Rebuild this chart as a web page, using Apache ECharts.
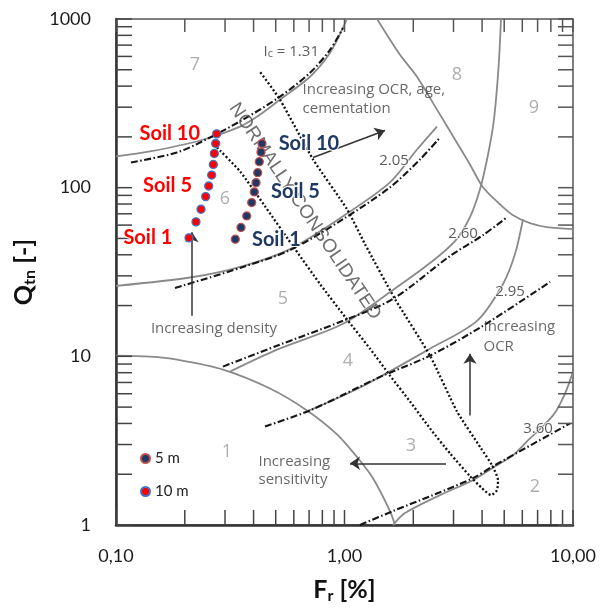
<!DOCTYPE html>
<html><head><meta charset="utf-8">
<script src="https://cdn.jsdelivr.net/npm/echarts@6/dist/echarts.min.js"></script>
<style>html,body{margin:0;padding:0;background:#fff}#c{width:600px;height:609px}</style>
</head><body><div id="c"></div>
<script>
// ---------- axis tick values ----------
const xTickValues = [0.1,0.2,0.3,0.4,0.5,0.6,0.7,0.8,0.9,1,2,3,4,5,6,7,8,9,10];
const yTickValues = [1,2,3,4,5,6,7,8,9,10,20,30,40,50,60,70,80,90,100,200,300,400,500,600,700,800,900,1000];

// ---------- soil data ----------
const soilNames = ['Soil 1','Soil 2','Soil 3','Soil 4','Soil 5','Soil 6','Soil 7','Soil 8','Soil 9','Soil 10'];
const labelledSoils = ['Soil 1','Soil 5','Soil 10'];
const fr5m  = [0.3327,0.3524,0.3733,0.3925,0.4030,0.4100,0.4170,0.4238,0.4312,0.4355];
const qtn5m = [49.5,58.1,68.0,81.6,94.3,107.1,122.7,142.5,162.4,182.8];
const fr10m  = [0.2087,0.2239,0.2355,0.2469,0.2545,0.2623,0.2666,0.2693,0.2731,0.2759];
const qtn10m = [50.4,62.7,74.5,88.5,102.3,118.8,137.3,159.5,182.8,208.5];

// ---------- zone boundaries [Fr, Qtn] ----------
const zone7to6 = [[0.1,153.1],[0.1409,163.9],[0.2332,190.4],[0.3489,230.3],[0.4268,271.1],[0.5221,332.4],[0.7063,454.5],[0.8639,630],[1.0254,1000]];
const zone6to5 = [[0.1,26.15],[0.2173,29.54],[0.3596,34.31],[0.5774,43.24],[0.9849,67.73],[1.5814,107.5],[2.0762,168.4],[2.5398,230.3]];
const zone5to4 = [[0.3155,8.119],[0.5066,10.95],[0.9849,15.59],[1.6302,24.76],[2.367,35.74],[3.045,48.21],[3.541,66.80],[3.917,97.77],[4.205,147.0],[4.466,230.3],[4.603,332.4],[4.745,572.6],[4.840,1000]];
const zone4to3 = [[0.6853,4.712],[1.169,6.531],[2.367,11.10],[3.801,16.24],[4.940,26.87],[5.574,40.39],[6.042,65.01]];
const zone8 = [[1.388,1000],[1.750,613],[2.0762,454.5],[2.5398,290.2],[3.045,193.0],[3.541,137.3],[4.037,100.5],[4.791,79.72],[5.463,68.65],[6.484,61.56],[7.694,58.31],[10,56.75]];
const zone1 = [[0.1,10.09],[0.1409,9.954],[0.1849,9.557],[0.2939,8.342],[0.4721,6.444],[0.6853,4.777],[0.9273,3.446],[1.146,2.487],[1.332,1.895],[1.5814,1.210],[1.663,1]];
const zone2 = [[1.6302,1],[1.840,1.177],[2.618,1.504],[3.650,1.844],[4.649,2.262],[5.463,2.591],[6.290,3.133],[8.175,4.463],[9.226,6.020],[10,8.119]];

// ---------- Ic contours ----------
const ic131 = [[0.1163,141.1],[0.1849,161.7],[0.2579,198.3],[0.3596,253.3],[0.5221,346.2],[0.7063,479.8],[0.8639,656.2],[0.9849,884.9]];
const ic205 = [[0.1812,25.44],[0.3596,33.85],[0.5774,42.65],[0.9849,65.01],[1.5814,100.5],[2.140,147.0],[2.618,198.3]];
const ic260 = [[0.2939,8.690],[0.5066,11.56],[0.9849,16.24],[1.6302,21.90],[2.894,39.31],[4.037,52.29],[5.143,66.80]];
const ic295 = [[0.4488,3.843],[0.7063,4.777],[1.169,6.620],[1.474,7.688],[2.367,10.09],[4.037,15.18],[7.932,27.61]];
const ic360 = [[1.169,1],[1.6302,1.210],[2.4394,1.504],[3.650,1.895],[4.466,2.230],[9.703,4.003]];

// ---------- normally consolidated loop ----------
const ncLoop = [[0.2767,173.1],[0.3489,124.9],[0.4488,77.58],[0.6074,43.24],[0.7811,26.87],[1.005,17.15],[1.293,11.10],[1.5814,7.688],[1.935,5.399],[2.367,3.739],[2.894,2.662],[3.541,1.947],[3.997,1.654],[4.377,1.504],[4.649,1.609],[4.697,1.844],[4.421,2.262],[3.957,2.849],[3.107,4.712],[2.367,10.09],[1.663,21.90],[1.229,46.28],[1.0254,74.5],[0.7285,147.0],[0.5221,332.4],[0.4268,486.4]];

// ---------- arrows ----------
const arrowOCRage = [[0.7285,151.1],[1.504,218.1]];
const arrowDensity = [[0.2150,17.39],[0.2150,54.47]];
const arrowSensitivity = [[2.781,2.323],[1.057,2.323]];
const arrowOCR = [[3.541,4.463],[3.541,10.37]];

// ---------- texts ----------
const zoneNames = ['1','2','3','4','5','6','7','8','9'];
const zoneFr = [0.3060,6.818,1.954,1.036,0.5382,0.2999,0.2216,3.107,6.749];
const zoneQ  = [2.698,1.676,2.928,9.428,21.90,85.33,535.1,467.0,298.2];
const icNames = ['2.05','2.60','2.95','3.60'];
const icFr = [1.647,3.301,5.300,7.027];
const icQ  = [145.0,53.02,24.09,3.739];
const ic131Name = ['I{s|c} = 1.31'];
const ic131Fr = [0.4397];
const ic131Q = [638.6];
const noteNames = ['Increasing OCR, age,','cementation','Increasing','sensitivity','Increasing','OCR'];
const noteFr = [0.652,0.652,0.4182,0.4182,4.037,4.037];
const noteQ  = [380.8,294.1,2.388,1.844,14.97,11.41];
const densityNote = ['Increasing density'];
const densityFr = [0.2685];
const densityQ = [14.57];
const ncName = ['NORMALLY CONSOLIDATED'];
const ncFr = [0.6717];
const ncQ = [72.5];

const LATO = 'Lato, "Liberation Sans", sans-serif';
const OPEN = '"Open Sans", "Noto Sans", sans-serif';

function curve(data, kind) {
  const styles = {
    solid: {color:'#8a8a8a', width:1.8, type:'solid'},
    dashdot: {color:'#161616', width:2.1, type:[7,2.5,1.5,2.5]},
    dotted: {color:'#111', width:2.3, type:[2,2.2]}
  };
  return {type:'line', data:data, symbol:'none', showSymbol:false, smooth:0.3, silent:true, lineStyle:styles[kind], z:2};
}
function arrow(data) {
  return {type:'lines', coordinateSystem:'cartesian2d', silent:true, z:3,
    symbol:['none','arrow'], symbolSize:[0,10],
    lineStyle:{color:'#333', width:1.5, opacity:1},
    data:[{coords:data}]};
}
function textSeries(names, frs, qs, labelOpt) {
  return {type:'scatter', symbol:'circle', symbolSize:1, itemStyle:{color:'transparent'}, silent:true, z:6,
    data: names.map((n,i)=>({name:n, value:[frs[i], qs[i]]})),
    label: Object.assign({show:true, formatter:p=>p.name}, labelOpt)};
}
function tickSeries(values, isX) {
  return {type:'custom', silent:true, clip:false, z:4,
    data: values.map(v => isX ? [v, 1] : [0.1, v]),
    renderItem: function(params, api) {
      const L = 15;
      if (isX) {
        const v = api.value(0);
        const b = api.coord([v, 1]), t = api.coord([v, 1000]);
        return {type:'group', children:[
          {type:'line', shape:{x1:b[0],y1:b[1],x2:b[0],y2:b[1]-L}, style:{stroke:'#444', lineWidth:1.5}},
          {type:'line', shape:{x1:t[0],y1:t[1],x2:t[0],y2:t[1]+L-2}, style:{stroke:'#555', lineWidth:1.5}}]};
      } else {
        const v = api.value(1);
        const l = api.coord([0.1, v]), r = api.coord([10, v]);
        return {type:'group', children:[
          {type:'line', shape:{x1:l[0],y1:l[1],x2:l[0]+L+1,y2:l[1]}, style:{stroke:'#444', lineWidth:1.5}},
          {type:'line', shape:{x1:r[0],y1:r[1],x2:r[0]-L,y2:r[1]}, style:{stroke:'#555', lineWidth:1.5}}]};
      }
    }};
}
function soilSeries(name, frs, qs, fill, border, labelColor, side) {
  return {type:'scatter', name:name, z:8, symbol:'circle', symbolSize:8,
    itemStyle:{color:fill, borderColor:border, borderWidth:1.3, opacity:1},
    label:{show:false, position:side, distance:12, color:labelColor, fontFamily:LATO, fontWeight:'bold', fontSize:20,
      textBorderColor:'#fff', textBorderWidth:2},
    data: soilNames.map((n,i)=>({name:n, value:[frs[i], qs[i]],
      label:{show: labelledSoils.indexOf(n) >= 0, formatter: n}}))};
}

const chart = echarts.init(document.getElementById('c'), null, {renderer:'canvas'});
chart.setOption({
  animation:false,
  backgroundColor:'#fff',
  grid:{left:116, right:27, top:19, bottom:82, show:true, borderColor:'#555', borderWidth:1.5},
  legend:{data:['5 m','10 m'], orient:'vertical', left:135, top:446, itemWidth:9, itemHeight:9, itemGap:18,
    icon:'circle', textStyle:{fontSize:15, fontFamily:LATO, color:'#222'}},
  xAxis:{type:'log', logBase:10, min:0.1, max:10,
    axisLine:{show:true, onZero:false, lineStyle:{color:'#333', width:2.5}},
    axisTick:{show:false}, splitLine:{show:false}, minorTick:{show:false},
    axisLabel:{margin:22, fontSize:18, fontFamily:LATO, color:'#1c1c1c',
      formatter: v => Number(v).toFixed(2).replace('.', ',')},
    name:'{a|F}{b|r}{a| [%]}', nameLocation:'middle', nameGap:50,
    nameTextStyle:{rich:{
      a:{fontSize:25, fontWeight:'bold', fontFamily:LATO, color:'#111', lineHeight:29},
      b:{fontSize:16, fontWeight:'bold', fontFamily:LATO, color:'#111', lineHeight:16, verticalAlign:'bottom'}}}},
  yAxis:{type:'log', logBase:10, min:1, max:1000,
    axisLine:{show:true, onZero:false, lineStyle:{color:'#333', width:2.5}},
    axisTick:{show:false}, splitLine:{show:false}, minorTick:{show:false},
    axisLabel:{margin:25, fontSize:18, fontFamily:LATO, color:'#1c1c1c', formatter: v => String(Math.round(v))},
    name:'{a|Q}{b|tn}{a| [-]}', nameLocation:'middle', nameRotate:90, nameGap:70,
    nameTextStyle:{rich:{
      a:{fontSize:25, fontWeight:'bold', fontFamily:LATO, color:'#111', lineHeight:29},
      b:{fontSize:16, fontWeight:'bold', fontFamily:LATO, color:'#111', lineHeight:16, verticalAlign:'bottom'}}}},
  series:[
    curve(zone7to6,'solid'), curve(zone6to5,'solid'), curve(zone5to4,'solid'), curve(zone4to3,'solid'),
    curve(zone8,'solid'), curve(zone1,'solid'), curve(zone2,'solid'),
    curve(ic131,'dashdot'), curve(ic205,'dashdot'), curve(ic260,'dashdot'), curve(ic295,'dashdot'), curve(ic360,'dashdot'),
    Object.assign(curve(ncLoop,'dotted'), {smooth:0.2}),
    arrow(arrowOCRage), arrow(arrowDensity), arrow(arrowSensitivity), arrow(arrowOCR),
    tickSeries(xTickValues, true), tickSeries(yTickValues, false),
    textSeries(zoneNames, zoneFr, zoneQ, {position:'inside', fontSize:18, fontFamily:OPEN, color:'#9a9a9a'}),
    textSeries(icNames, icFr, icQ, {position:'inside', fontSize:15, fontFamily:OPEN, color:'#333',
      textBorderColor:'#fff', textBorderWidth:2}),
    textSeries(ic131Name, ic131Fr, ic131Q, {position:'right', distance:0, fontSize:15, fontFamily:OPEN, color:'#333',
      rich:{s:{fontSize:11, fontFamily:OPEN, color:'#333', verticalAlign:'bottom', lineHeight:11}}}),
    textSeries(noteNames, noteFr, noteQ, {position:'right', distance:0, fontSize:15, fontFamily:OPEN, color:'#444'}),
    textSeries(densityNote, densityFr, densityQ, {position:'inside', fontSize:15, fontFamily:OPEN, color:'#444'}),
    textSeries(ncName, ncFr, ncQ, {position:'inside', rotate:-56, fontSize:19, fontFamily:'"Liberation Sans", sans-serif', color:'#4a4a4a'}),
    soilSeries('5 m', fr5m, qtn5m, '#1f3864', '#c0504d', '#1f3864', 'right'),
    soilSeries('10 m', fr10m, qtn10m, '#ff0000', '#4472c4', '#ff0000', 'left')
  ]
});
</script>
</body></html>
